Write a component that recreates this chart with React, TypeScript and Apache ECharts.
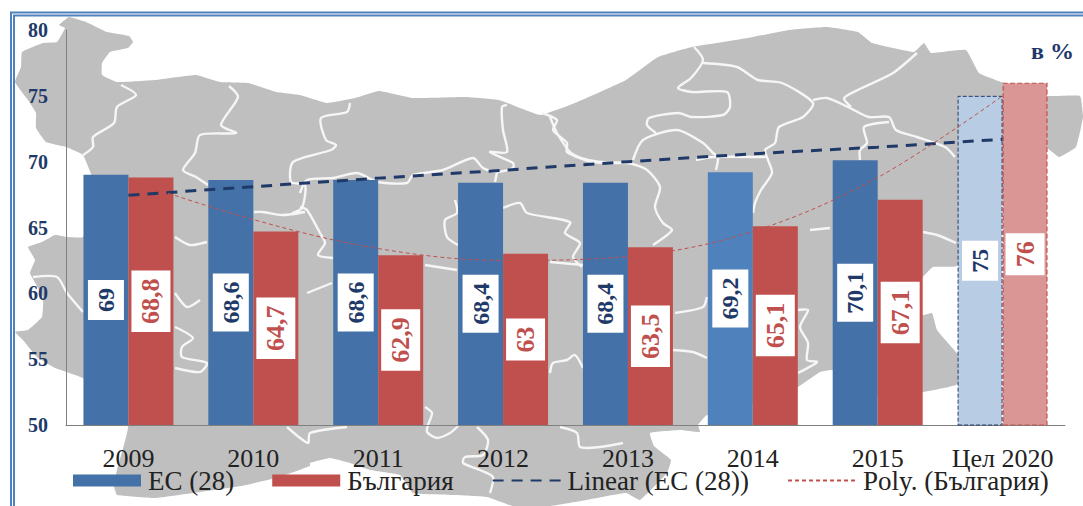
import React, { useEffect, useRef } from "react";
import * as echarts from "echarts";

const categories = ["2009", "2010", "2011", "2012", "2013", "2014", "2015", "Цел 2020"];
const euValues = [69, 68.6, 68.6, 68.4, 68.4, 69.2, 70.1, 75];
const bgValues = [68.8, 64.7, 62.9, 63, 63.5, 65.1, 67.1, 76];
const linearTrend = [67.45, 68.1, 68.75, 69.35, 70, 70.6, 71.1, 71.7];
const polyTrend = [68.6, 65.6, 63.4, 62.5, 62.8, 64.7, 68.8, 75];

const mapOutline: number[][] = [
  [65,28],[59,25],[69,17],[86,22],[107,32],[129,36],[133,42],[128,48],[110,52],[102,63],[102,75],[117,82],[155,80],[196,75],[220,82],[248,83],[276,92],[300,95],[327,103],[355,98],[379,91],[413,98],[465,97],[499,100],[540,115],[575,103],[626,80],[658,57],[692,47],[748,38],[789,30],[827,27],[858,32],[872,43],[914,52],[924,43],[931,53],[966,50],[979,73],[1004,83],[1048,96],[1080,96],[1083,117],[1076,147],[1059,157],[1045,147],[1003,200],[957,266],[933,267],[923,277],[915,300],[923,315],[932,313],[937,330],[956,352],[970,370],[956,385],[923,392],[878,395],[832,370],[820,372],[798,387],[770,400],[707,415],[698,425],[700,432],[680,430],[650,433],[654,446],[671,460],[667,473],[640,500],[626,493],[581,501],[550,506],[513,506],[487,497],[453,495],[413,493],[400,475],[370,470],[350,463],[330,458],[310,463],[310,466],[276,478],[241,486],[193,493],[155,498],[117,495],[114,486],[117,470],[128,427],[110,400],[83,378],[55,368],[37,357],[23,340],[15,332],[28,330],[42,317],[43,297],[30,273],[35,260],[28,247],[42,242],[55,235],[67,237],[83,237],[100,200],[83,155],[66,147],[46,142],[36,128],[36,113],[28,100],[15,82],[21,67],[22,52],[43,43],[57,42],
];

const mapBorders: number[][][] = [
  [[121,85],[136,95],[117,107],[114,123],[93,137],[93,147],[83,155]],
  [[229,86],[238,97],[221,125],[236,133],[200,135],[195,153],[183,170],[196,177],[208,185]],
  [[350,103],[347,112],[321,118],[326,140],[336,145],[331,150],[293,162],[291,182],[305,185],[302,208],[293,213],[305,212]],
  [[300,193],[307,180],[333,178],[357,173],[378,182],[407,183],[413,175],[443,170],[473,158],[483,168],[497,172],[513,168],[513,163],[490,152],[507,152],[503,130],[502,107],[507,105]],
  [[497,172],[495,182]],
  [[542,113],[557,120],[553,130],[567,143],[567,152],[593,162],[628,163],[647,170],[660,187],[655,207],[663,223],[672,230],[653,245]],
  [[633,160],[643,140],[677,130],[703,143],[713,153],[718,157],[716,170]],
  [[455,200],[457,213],[445,220],[447,237],[458,245]],
  [[503,208],[520,203],[527,213],[570,222],[565,233],[580,243],[573,257],[582,267]],
  [[425,265],[457,270]],
  [[550,262],[583,265]],
  [[300,207],[307,210],[320,233],[325,243],[318,255],[333,258]],
  [[307,293],[332,283]],
  [[550,117],[557,133],[571,153],[588,160],[613,163],[633,163]],
  [[694,47],[703,60],[691,78],[678,88],[692,92],[727,92],[730,107],[723,115],[692,117],[678,113],[649,118],[647,125],[656,133]],
  [[703,63],[737,67],[758,80],[782,83],[813,103],[803,117],[779,127],[775,143],[765,150],[768,160],[772,173],[761,190],[755,203],[753,213]],
  [[813,100],[827,98],[848,107],[869,117],[889,117],[896,130],[917,137],[945,147],[955,157]],
  [[917,53],[893,73],[862,88],[844,98],[851,107]],
  [[889,122],[864,127],[867,143],[860,150],[860,160]],
  [[696,160],[713,157],[768,157]],
  [[923,232],[937,235],[956,243]],
  [[810,230],[830,228]],
  [[798,310],[808,310],[800,327],[808,343],[807,360],[817,362],[798,373]],
  [[675,313],[703,307],[707,297]],
  [[673,350],[693,352],[707,358]],
  [[550,373],[553,363],[567,360],[575,355],[583,368]],
  [[425,407],[432,413],[428,425],[427,432],[437,438],[450,433],[458,426]],
  [[477,427],[488,440],[483,455],[465,457],[463,463],[480,470],[493,477],[490,493]],
  [[287,427],[308,443],[310,433],[347,427]],
  [[560,427],[577,433],[580,447],[600,447],[623,443]],
  [[175,237],[190,245],[207,242]],
  [[175,293],[187,307],[200,300]],
  [[175,327],[193,338],[182,347],[182,357],[207,363],[200,372],[175,368]],
  [[33,277],[57,277],[67,293],[83,312]],
  [[254,212],[263,212],[282,215],[300,213]],
];

const SERIF = '"Liberation Serif", serif';
const NAVY = "#1f3a68";
const RED = "#c0504d";
const BLUE = "#4472a8";

const fmt = (v: number) => String(v).replace(".", ",");

export default function App() {
  const ref = useRef<HTMLDivElement>(null);
  useEffect(() => {
    if (!ref.current) return;
    const chart = echarts.init(ref.current, undefined, { renderer: "svg" });
    const last = categories.length - 1;
    chart.setOption({
      animation: false,
      backgroundColor: "#ffffff",
      grid: { left: 66, right: 18, top: 30, bottom: 81, containLabel: false },
      graphic: [
        { type: "polygon", silent: true, z: -5, shape: { points: mapOutline, smooth: 0.1 }, style: { fill: "#bfbfbf" } },
        ...mapBorders.map((points) => ({
          type: "polyline",
          silent: true,
          z: -4,
          shape: { points, smooth: 0.25 },
          style: { stroke: "#f6f6f6", lineWidth: 2.4, fill: "none" },
        })),
        { type: "rect", silent: true, z: -3, shape: { x: 11, y: 12.5, width: 1300, height: 700 }, style: { fill: "none", stroke: "#4f81bd", lineWidth: 2 } },
        { type: "rect", silent: true, z: -3, shape: { x: 14, y: 15.5, width: 1300, height: 700 }, style: { fill: "none", stroke: "#4f81bd", lineWidth: 2 } },
        {
          type: "text",
          silent: true,
          z: 5,
          x: 1031,
          y: 39,
          style: { text: "в %", fill: NAVY, font: `bold 24px ${SERIF}` },
        },
      ],
      legend: {
        left: 73,
        top: 467,
        itemWidth: 68,
        itemHeight: 12,
        itemGap: 38,
        padding: 0,
        textStyle: { fontFamily: SERIF, fontSize: 27, color: "#222222", padding: [0, 0, 0, 2] },
        data: [
          { name: "ЕС (28)", icon: "rect" },
          { name: "България", icon: "rect" },
          { name: "Linear (ЕС (28))", itemStyle: { opacity: 0 } },
          { name: "Poly. (България)", itemStyle: { opacity: 0 } },
        ],
      },
      xAxis: {
        type: "category",
        data: categories,
        axisLine: { lineStyle: { color: "#808080", width: 1 } },
        axisTick: { show: false },
        axisLabel: { fontFamily: SERIF, fontSize: 26, color: "#222222", margin: 20, interval: 0 },
      },
      yAxis: {
        type: "value",
        min: 50,
        max: 80,
        interval: 5,
        axisLine: { show: true, lineStyle: { color: "#808080", width: 1 } },
        axisTick: { show: false },
        splitLine: { show: false },
        axisLabel: { fontFamily: SERIF, fontSize: 20, fontWeight: "bold", color: NAVY, margin: 18 },
      },
      series: [
        {
          name: "ЕС (28)",
          type: "bar",
          barWidth: 45,
          barGap: 0,
          itemStyle: { color: BLUE },
          label: {
            show: true,
            position: "inside",
            rotate: 90,
            formatter: (p: any) => fmt(p.value),
            fontFamily: SERIF,
            fontSize: 24,
            fontWeight: "bold",
            color: NAVY,
            backgroundColor: "#ffffff",
            padding: [6, 8, 6, 8],
          },
          data: euValues.map((value, i) => ({
            value,
            itemStyle:
              i === last
                ? { color: "#b8cce4", borderColor: NAVY, borderWidth: 1, borderType: "dashed" }
                : i === 5
                ? { color: "#4f81bd" }
                : { color: BLUE },
          })),
        },
        {
          name: "България",
          type: "bar",
          barWidth: 45,
          itemStyle: { color: RED },
          label: {
            show: true,
            position: "inside",
            rotate: 90,
            formatter: (p: any) => fmt(p.value),
            fontFamily: SERIF,
            fontSize: 26,
            fontWeight: "bold",
            color: RED,
            backgroundColor: "#ffffff",
            padding: [7, 8, 6, 8],
          },
          data: bgValues.map((value, i) => ({
            value,
            itemStyle:
              i === last
                ? { color: "#d99694", borderColor: RED, borderWidth: 1.2, borderType: "dashed" }
                : { color: RED },
          })),
        },
        {
          name: "Linear (ЕС (28))",
          type: "line",
          symbol: "none",
          data: linearTrend,
          itemStyle: { color: NAVY },
          lineStyle: { color: NAVY, width: 3, type: [11, 8] },
        },
        {
          name: "Poly. (България)",
          type: "line",
          symbol: "none",
          smooth: 0.35,
          data: polyTrend,
          itemStyle: { color: RED },
          lineStyle: { color: RED, width: 1, type: [4, 3] },
        },
      ],
    });
    return () => chart.dispose();
  }, []);
  return <div ref={ref} style={{ position: "fixed", left: 0, top: 0, width: 1083, height: 506 }} />;
}
